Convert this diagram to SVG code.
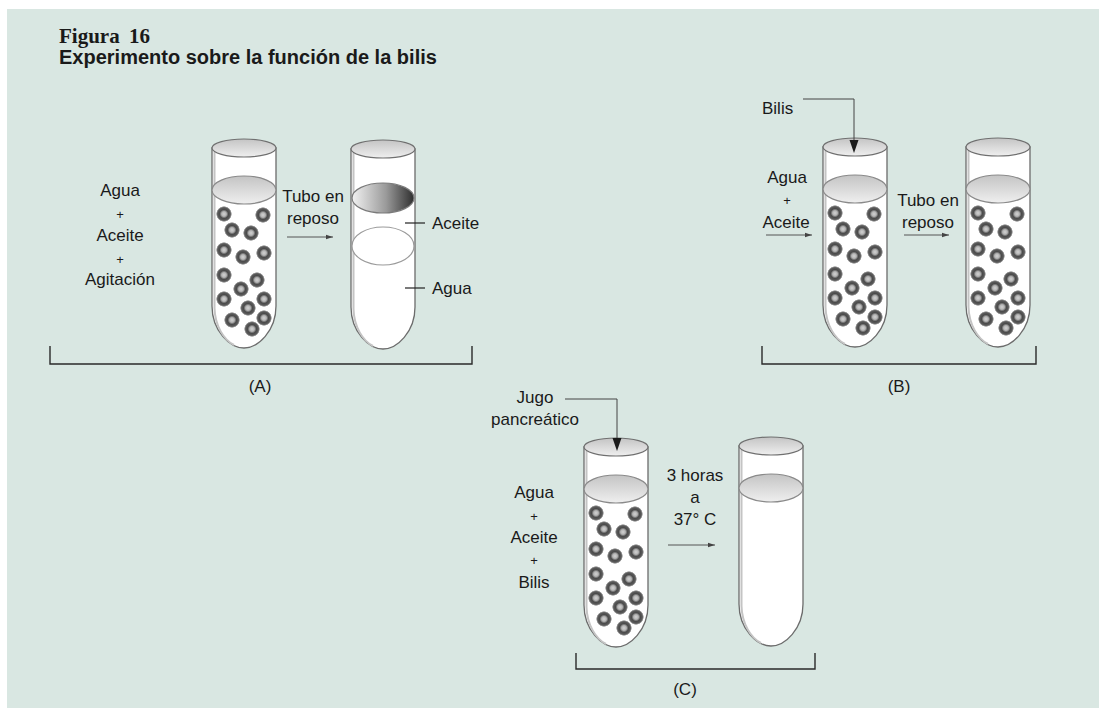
<svg xmlns="http://www.w3.org/2000/svg" xmlns:xlink="http://www.w3.org/1999/xlink" width="1099" height="708" viewBox="0 0 1099 708">
  <style>
    .lbl { font-family: "Liberation Sans", Arial, sans-serif; font-size: 17px; fill: #1a1a1a; text-anchor: middle; }
    .plus { font-family: "Liberation Sans", Arial, sans-serif; font-size: 13px; fill: #1a1a1a; text-anchor: middle; }
    .lblL { font-family: "Liberation Sans", Arial, sans-serif; font-size: 17px; fill: #1a1a1a; }
    .bracket { fill: none; stroke: #2a2a2a; stroke-width: 1.4; }
    .flow { fill: none; stroke: #555; stroke-width: 1; marker-end: url(#arr); }
    .pointer { fill: none; stroke: #444; stroke-width: 1; }
    .tick { stroke: #222; stroke-width: 1.2; }
    .glass { fill: #fff; stroke: #6c6c6c; stroke-width: 1.3; }
    .shade { fill: none; stroke: #c4c4c4; stroke-width: 2; }
    .cap { fill: url(#capGrad); stroke: #707070; stroke-width: 1.2; }
    .liquid { fill: url(#capGrad); stroke: #8a8a8a; stroke-width: 1.2; }
  </style>
  <defs>
    <linearGradient id="capGrad" x1="0" y1="0" x2="0" y2="1">
      <stop offset="0" stop-color="#c4c4c4"/>
      <stop offset="1" stop-color="#efefef"/>
    </linearGradient>
    <linearGradient id="oilGrad" x1="0" y1="0" x2="1" y2="0">
      <stop offset="0" stop-color="#f2f2f2"/>
      <stop offset="0.55" stop-color="#9a9a9a"/>
      <stop offset="1" stop-color="#2e2e2e"/>
    </linearGradient>
    <radialGradient id="beadGrad" cx="0.5" cy="0.5" r="0.5">
      <stop offset="0" stop-color="#d2d2d2"/>
      <stop offset="0.3" stop-color="#b4b4b4"/>
      <stop offset="0.55" stop-color="#4a4a4a"/>
      <stop offset="0.8" stop-color="#5c5c5c"/>
      <stop offset="0.95" stop-color="#bdbdbd"/>
      <stop offset="1" stop-color="#ffffff" stop-opacity="0"/>
    </radialGradient>
    <marker id="arr" markerWidth="8" markerHeight="6" refX="7" refY="3" orient="auto" markerUnits="userSpaceOnUse">
      <path d="M0,0.8 L7,3 L0,5.2 Z" fill="#444"/>
    </marker>
    <!-- empty test tube: origin at left edge / centre of rim -->
    <g id="tube">
      <path class="glass" d="M0,0 V158 C0,183 18,200 32,200 C46,200 64,183 64,158 V0 Z"/>
      <path class="shade" d="M2.5,4 V160 C3,178 12,192 22,197"/>
      <ellipse class="cap" cx="32" cy="0" rx="32" ry="9"/>
    </g>
    <!-- tube with liquid surface -->
    <g id="tubeLiquid">
      <use xlink:href="#tube"/>
      <ellipse class="liquid" cx="32" cy="42" rx="32" ry="14"/>
    </g>
    <circle id="bead" r="8" fill="url(#beadGrad)"/>
    <!-- emulsion droplets inside a tube -->
    <g id="beads">
      <use xlink:href="#bead" x="12" y="66"/>
      <use xlink:href="#bead" x="51" y="67"/>
      <use xlink:href="#bead" x="20" y="82"/>
      <use xlink:href="#bead" x="39" y="85"/>
      <use xlink:href="#bead" x="12" y="102"/>
      <use xlink:href="#bead" x="31" y="109"/>
      <use xlink:href="#bead" x="52" y="105"/>
      <use xlink:href="#bead" x="12" y="127"/>
      <use xlink:href="#bead" x="45" y="132"/>
      <use xlink:href="#bead" x="29" y="141"/>
      <use xlink:href="#bead" x="12" y="151"/>
      <use xlink:href="#bead" x="52" y="151"/>
      <use xlink:href="#bead" x="36" y="160"/>
      <use xlink:href="#bead" x="52" y="170"/>
      <use xlink:href="#bead" x="20" y="172"/>
      <use xlink:href="#bead" x="40" y="181"/>
    </g>
  </defs>

  <!-- panel -->
  <rect x="0" y="0" width="1099" height="708" fill="#ffffff"/>
  <rect x="7" y="9" width="1092" height="699" fill="#d9e7e2"/>

  <!-- heading -->
  <g id="title">
    <text x="59" y="43" font-family="'Liberation Serif', 'Times New Roman', serif" font-size="21" font-weight="bold" fill="#1a1a1a" word-spacing="4">Figura 16</text>
    <text x="59" y="64" font-family="'Liberation Sans', Arial, sans-serif" font-size="20" font-weight="bold" fill="#1a1a1a">Experimento sobre la función de la bilis</text>
  </g>

  <!-- (A) shaking water and oil, then letting it stand -->
  <g id="mixA">
    <text class="lbl" x="120" y="196">Agua</text>
    <text class="plus" x="120" y="219">+</text>
    <text class="lbl" x="120" y="241">Aceite</text>
    <text class="plus" x="120" y="264">+</text>
    <text class="lbl" x="120" y="285">Agitación</text>
  </g>
  <g id="tubeA1" transform="translate(212,148)">
    <use xlink:href="#tubeLiquid"/>
    <use xlink:href="#beads"/>
  </g>
  <g id="restA">
    <text class="lbl" x="313" y="202">Tubo en</text>
    <text class="lbl" x="313" y="224">reposo</text>
  </g>
  <g id="tubeA2" transform="translate(351,149)">
    <use xlink:href="#tube"/>
    <ellipse cx="32" cy="49" rx="31" ry="15" fill="url(#oilGrad)" stroke="#7a7a7a" stroke-width="1.2"/>
    <ellipse cx="32" cy="97" rx="31" ry="19" fill="#ffffff" stroke="#9a9a9a" stroke-width="1.2"/>
  </g>
  <g id="layersA">
    <line class="tick" x1="405" y1="223" x2="425" y2="223"/>
    <text class="lblL" x="432" y="229">Aceite</text>
    <line class="tick" x1="405" y1="288" x2="425" y2="288"/>
    <text class="lblL" x="432" y="294">Agua</text>
  </g>
  <g id="bracketA">
    <path class="bracket" d="M50,346 V364 H472 V346"/>
    <text class="lbl" x="260" y="392">(A)</text>
  </g>

  <!-- (B) adding bile -->
  <g id="bileB">
    <text class="lblL" x="762" y="114">Bilis</text>
  </g>
  <g id="mixB">
    <text class="lbl" x="787" y="183">Agua</text>
    <text class="plus" x="787" y="205">+</text>
    <text class="lbl" x="786" y="228">Aceite</text>
  </g>
  <g id="tubeB1" transform="translate(823,147)">
    <use xlink:href="#tubeLiquid"/>
    <use xlink:href="#beads"/>
  </g>
  <g id="restB">
    <text class="lbl" x="928" y="206">Tubo en</text>
    <text class="lbl" x="928" y="228">reposo</text>
  </g>
  <g id="tubeB2" transform="translate(966,147)">
    <use xlink:href="#tubeLiquid"/>
    <use xlink:href="#beads"/>
  </g>
  <g id="bracketB">
    <path class="bracket" d="M762,346 V364 H1036 V346"/>
    <text class="lbl" x="899" y="392">(B)</text>
  </g>

  <!-- (C) adding pancreatic juice and incubating -->
  <g id="juiceC">
    <text class="lbl" x="535" y="403">Jugo</text>
    <text class="lbl" x="535" y="425">pancreático</text>
  </g>
  <g id="mixC">
    <text class="lbl" x="534" y="498">Agua</text>
    <text class="plus" x="534" y="521">+</text>
    <text class="lbl" x="534" y="543">Aceite</text>
    <text class="plus" x="534" y="565">+</text>
    <text class="lbl" x="534" y="588">Bilis</text>
  </g>
  <g id="tubeC1" transform="translate(584,447)">
    <use xlink:href="#tubeLiquid"/>
    <use xlink:href="#beads"/>
  </g>
  <g id="incubateC">
    <text class="lbl" x="695" y="481">3 horas</text>
    <text class="lbl" x="695" y="503">a</text>
    <text class="lbl" x="695" y="525">37° C</text>
  </g>
  <g id="tubeC2" transform="translate(739,446)">
    <use xlink:href="#tubeLiquid"/>
  </g>
  <g id="bracketC">
    <path class="bracket" d="M576,653 V669 H815 V653"/>
    <text class="lbl" x="685" y="695">(C)</text>
  </g>

  <!-- connectors -->
  <g id="connectors">
    <line class="flow" x1="287" y1="237" x2="333" y2="237"/>
    <line class="flow" x1="766" y1="235" x2="812" y2="235"/>
    <line class="flow" x1="904" y1="235" x2="949" y2="235"/>
    <line class="flow" x1="668" y1="545" x2="715" y2="545"/>
    <path class="pointer" d="M803,99 H854 V142"/>
    <path d="M849.5,140 L858.5,140 L854,153 Z" fill="#1a1a1a"/>
    <path class="pointer" d="M565,399 H617 V440"/>
    <path d="M612.5,438 L621.5,438 L617,451 Z" fill="#1a1a1a"/>
  </g>
</svg>
